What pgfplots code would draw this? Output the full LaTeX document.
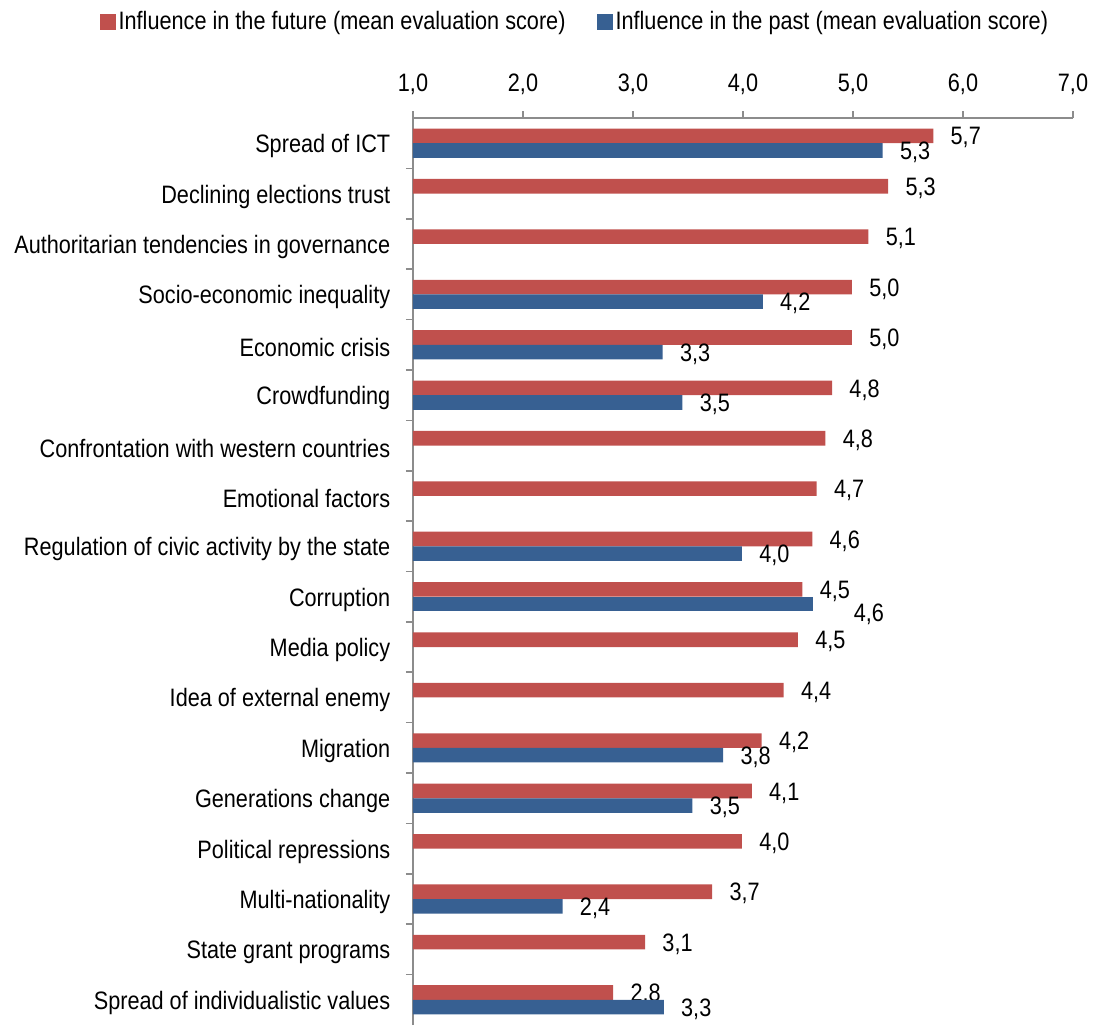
\documentclass[border=0pt]{standalone}
\usepackage{fontspec}
\setmainfont{Liberation Sans}[FakeStretch=0.86]
\usepackage{pgfplots}
\pgfplotsset{compat=1.18}
\usepackage{pgfplotstable}
\definecolor{fut}{HTML}{C0504D}
\definecolor{pas}{HTML}{376092}
\definecolor{axg}{RGB}{140,140,140}

\pgfplotstableread{
y x lab
17 5.73 5,7
16 5.32 5,3
15 5.14 5,1
14 4.99 5,0
13 4.99 5,0
12 4.81 4,8
11 4.75 4,8
10 4.67 4,7
9 4.63 4,6
8 4.54 4,5
7 4.50 4,5
6 4.37 4,4
5 4.17 4,2
4 4.08 4,1
3 3.99 4,0
2 3.72 3,7
1 3.11 3,1
0 2.82 2,8
}\future

\pgfplotstableread{
y x lab
17 5.27 5,3
14 4.18 4,2
13 3.27 3,3
12 3.45 3,5
9 3.99 4,0
5 3.82 3,8
4 3.54 3,5
2 2.36 2,4
0 3.28 3,3
}\past

\pgfplotstableread{
y x lab
8 4.64 4,6
}\pastb

\begin{document}
\fontsize{12.6}{15}\selectfont
\begin{tikzpicture}
\useasboundingbox (-206.5pt,0pt) rectangle (344.5pt,512.5pt);
\begin{axis}[
  at={(0pt,0pt)}, anchor=south west,
  width=330pt, height=453.5pt, scale only axis,
  xmin=1, xmax=7, ymin=-0.5, ymax=17.5,
  clip mode=individual,
  axis x line*=top, axis y line*=left,
  axis line style={draw=axg, line width=0.8pt, -},
  tick align=outside,
  major tick length=3.5pt,
  xtick={1,2,3,4,5,6,7},
  x tick style={draw=axg, line width=0.8pt},
  xticklabel style={yshift=3.5pt},
  /pgf/number format/.cd, use comma, fixed, fixed zerofill, precision=1, assume math mode=true,
  /pgfplots/.cd,
  ytick={0,...,17},
  yticklabels={Spread of individualistic values, State grant programs, Multi-nationality, Political repressions, Generations change, Migration, Idea of external enemy, Media policy, Corruption, Regulation of civic activity by the state, Emotional factors, Confrontation with western countries, Crowdfunding, Economic crisis, Socio-economic inequality, Authoritarian tendencies in governance, Declining elections trust, Spread of ICT},
  y tick style={draw=none},
  yticklabel style={xshift=-3.5pt, yshift=-1.5pt},
  extra y ticks={0.5,1.5,2.5,3.5,4.5,5.5,6.5,7.5,8.5,9.5,10.5,11.5,12.5,13.5,14.5,15.5,16.5},
  extra y tick labels={},
  extra y tick style={y tick style={draw=axg, line width=0.8pt}},
  xbar, bar width=0.29,
  nodes near coords, point meta=explicit symbolic,
  nodes near coords style={anchor=west, inner sep=0pt, xshift=8.5pt, yshift=-1pt, text=black},
  legend columns=2,
  legend style={at={(axis description cs:0.246,1.106)}, anchor=center, draw=none, inner sep=0pt,
    nodes={inner sep=1.5pt}, /tikz/every even column/.append style={column sep=14pt}},
  legend image code/.code={\fill[#1] (0pt,-4pt) rectangle (8pt,4pt);},
]
\addplot[fill=fut, draw=none, bar shift=0.145] table[x=x,y=y,meta=lab]{\future};
\addlegendentry{Influence in the future (mean evaluation score)}
\addplot[fill=pas, draw=none, bar shift=-0.145] table[x=x,y=y,meta=lab]{\past};
\addlegendentry{Influence in the past (mean evaluation score)}
\addplot[fill=pas, draw=none, bar shift=-0.145, forget plot,
  nodes near coords style={xshift=11.5pt, yshift=-4pt}] table[x=x,y=y,meta=lab]{\pastb};
\end{axis}
\end{tikzpicture}
\end{document}
